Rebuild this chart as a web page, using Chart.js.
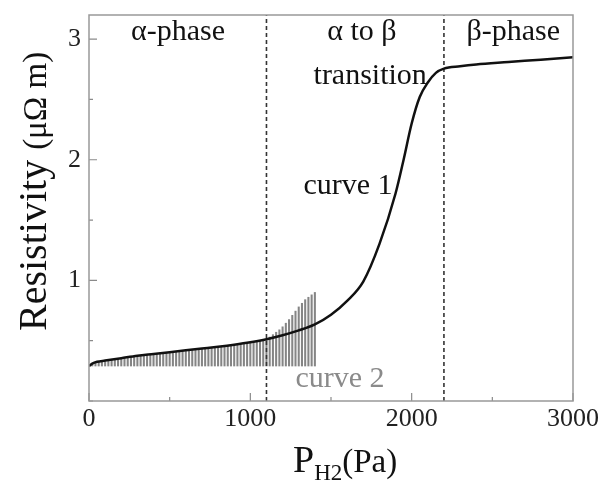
<!DOCTYPE html>
<html>
<head>
<meta charset="utf-8">
<script src="https://cdn.jsdelivr.net/npm/chart.js@4.4.1/dist/chart.umd.min.js"></script>
<style>
  html, body { margin: 0; padding: 0; background: #fff; }
</style>
</head>
<body>
<canvas id="chart" width="598" height="482"></canvas>
<script>
// curve 1: resistivity vs hydrogen pressure (black)
const curve1P = [0, 20, 50, 100, 200, 300, 400, 500, 600, 700, 800, 900, 1000, 1100, 1200, 1300, 1400,
  1500, 1600, 1700, 1800, 1900, 1950, 2000, 2050, 2100, 2150, 2200, 2300, 2400, 2600, 2800, 3000];
const curve1R = [0.29, 0.31, 0.325, 0.335, 0.355, 0.375, 0.39, 0.405, 0.42, 0.435, 0.45, 0.467, 0.487, 0.512, 0.545, 0.585, 0.635,
  0.715, 0.83, 0.99, 1.3, 1.72, 2.0, 2.3, 2.52, 2.64, 2.72, 2.755, 2.775, 2.79, 2.81, 2.83, 2.85];

// curve 2: oscillating measurement (gray comb), one spike per pressure step
const spikeP = [0, 20, 40, 60, 80, 100, 120, 140, 160, 180, 200, 220, 240, 260, 280, 300, 320, 340, 360, 380,
  400, 420, 440, 460, 480, 500, 520, 540, 560, 580, 600, 620, 640, 660, 680, 700, 720, 740, 760, 780,
  800, 820, 840, 860, 880, 900, 920, 940, 960, 980, 1000, 1020, 1040, 1060, 1080, 1100, 1120, 1140, 1160, 1180,
  1200, 1220, 1240, 1260, 1280, 1300, 1320, 1340, 1360, 1380, 1400];
const spikeTop = [0.30, 0.31, 0.318, 0.325, 0.33, 0.335, 0.339, 0.343, 0.347, 0.351, 0.355, 0.359, 0.363, 0.367, 0.371, 0.375, 0.378, 0.381, 0.384, 0.387,
  0.39, 0.393, 0.396, 0.399, 0.402, 0.405, 0.408, 0.411, 0.414, 0.417, 0.42, 0.423, 0.426, 0.429, 0.432, 0.435, 0.438, 0.441, 0.444, 0.447,
  0.45, 0.453, 0.457, 0.46, 0.464, 0.467, 0.471, 0.475, 0.479, 0.483, 0.487, 0.492, 0.497, 0.502, 0.507, 0.512, 0.53, 0.55, 0.57, 0.59,
  0.615, 0.645, 0.675, 0.71, 0.745, 0.78, 0.81, 0.84, 0.86, 0.88, 0.90];
const spikeBase = [0.29, 0.29, 0.29, 0.29, 0.29, 0.29, 0.29, 0.29, 0.29, 0.29, 0.29, 0.29, 0.29, 0.29, 0.29, 0.29, 0.29, 0.29, 0.29, 0.29,
  0.29, 0.29, 0.29, 0.29, 0.29, 0.29, 0.29, 0.29, 0.29, 0.29, 0.29, 0.29, 0.29, 0.29, 0.29, 0.29, 0.29, 0.29, 0.29, 0.29,
  0.29, 0.29, 0.29, 0.29, 0.29, 0.29, 0.29, 0.29, 0.29, 0.29, 0.29, 0.29, 0.29, 0.29, 0.29, 0.29, 0.29, 0.29, 0.29, 0.29,
  0.29, 0.29, 0.29, 0.29, 0.29, 0.29, 0.29, 0.29, 0.29, 0.29, 0.29];

// phase boundaries (dashed verticals)
const phaseBounds = [1100, 2200];

// axis ticks: labelled majors and unlabelled minors
const xTickValues = [0, 500, 1000, 1500, 2000, 2500, 3000];
const xTickLabels = ["0", "", "1000", "", "2000", "", "3000"];
const yTickValues = [0, 0.5, 1, 1.5, 2, 2.5, 3];
const yTickLabels = ["", "", "1", "", "2", "", "3"];

// text labels placed in data coordinates (alphabetic baseline)
const labelText = ["\u03b1-phase", "\u03b1 to \u03b2", "transition", "\u03b2-phase", "curve 1", "curve 2"];
const labelX = [552, 1692, 1743, 2630, 1605, 1556];
const labelY = [2.99, 2.99, 2.63, 2.99, 1.716, 0.116];
const labelColor = ["#111", "#111", "#111", "#111", "#111", "#8a8a8a"];

const SERIF = "'Liberation Serif', 'Times New Roman', serif";
Chart.defaults.font.family = SERIF;

const decorPlugin = {
  id: "decor",
  afterDatasetsDraw(chart) {
    const { ctx, chartArea: a, scales: { x, y } } = chart;
    ctx.save();
    // inward ticks
    ctx.strokeStyle = "#8a8a8a";
    ctx.lineWidth = 1.2;
    ctx.beginPath();
    x.ticks.forEach((t, i) => {
      const px = x.getPixelForValue(t.value);
      const len = xTickLabels[i] ? 8 : 4;
      ctx.moveTo(px, a.bottom);
      ctx.lineTo(px, a.bottom - len);
    });
    y.ticks.forEach((t, i) => {
      const py = y.getPixelForValue(t.value);
      const len = yTickLabels[i] ? 8 : 4;
      ctx.moveTo(a.left, py);
      ctx.lineTo(a.left + len, py);
    });
    ctx.stroke();
    // frame
    ctx.lineWidth = 1.5;
    ctx.strokeStyle = "#999";
    ctx.strokeRect(a.left, a.top, a.right - a.left, a.bottom - a.top);

    // in-plot labels
    ctx.textAlign = "center";
    ctx.textBaseline = "alphabetic";
    ctx.font = "30px " + SERIF;
    labelText.forEach((s, i) => {
      ctx.fillStyle = labelColor[i];
      ctx.fillText(s, x.getPixelForValue(labelX[i]), y.getPixelForValue(labelY[i]));
    });

    // x title: P_H2(Pa)
    ctx.fillStyle = "#111";
    ctx.textAlign = "left";
    let tx = 293;
    const base = 472;
    ctx.font = "38px " + SERIF;
    ctx.fillText("P", tx, base);
    tx += ctx.measureText("P").width;
    ctx.font = "23px " + SERIF;
    ctx.fillText("H2", tx, base + 8);
    tx += ctx.measureText("H2").width;
    ctx.font = "33px " + SERIF;
    ctx.fillText("(Pa)", tx, base);

    // y title: Resistivity (μΩ m)
    ctx.translate(46, 331);
    ctx.rotate(-Math.PI / 2);
    ctx.font = "40px " + SERIF;
    ctx.fillText("Resistivity", 0, 0);
    const ty = ctx.measureText("Resistivity ").width;
    ctx.font = "33px " + SERIF;
    ctx.fillText("(\u03bc\u03a9 m)", ty, 0);
    ctx.restore();
  },
};

new Chart(document.getElementById("chart"), {
  type: "line",
  data: {
    datasets: [
      {
        label: "curve 1",
        data: curve1P.map((p, i) => ({ x: p, y: curve1R[i] })),
        borderColor: "#111",
        borderWidth: 2.5,
        pointRadius: 0,
        cubicInterpolationMode: "monotone",
        order: 0,
      },
      ...phaseBounds.map((b) => ({
        label: "bound",
        data: [{ x: b, y: 0 }, { x: b, y: 3.2 }],
        borderColor: "#333",
        borderWidth: 1.6,
        borderDash: [4, 3],
        pointRadius: 0,
        order: 1,
      })),
      {
        type: "bar",
        label: "curve 2",
        data: spikeP.map((p, i) => ({ x: p, y: [spikeBase[i], spikeTop[i]] })),
        backgroundColor: "#858585",
        barThickness: 1.4,
        order: 2,
      },
    ],
  },
  options: {
    responsive: false,
    animation: false,
    layout: { padding: { top: 15, right: 25, left: 0, bottom: 0 } },
    plugins: { legend: { display: false }, tooltip: { enabled: false } },
    scales: {
      x: {
        type: "linear",
        min: 0,
        max: 3000,
        offset: false,
        grid: { display: false, drawTicks: false },
        border: { display: false },
        afterBuildTicks: (s) => { s.ticks = xTickValues.map((v) => ({ value: v })); },
        ticks: {
          padding: 3,
          color: "#222",
          font: { size: 26 },
          maxRotation: 0,
          autoSkip: false,
          callback: (v, i) => xTickLabels[i],
        },
        afterFit: (s) => { s.height = 81; s.paddingLeft = 0; s.paddingRight = 0; },
      },
      y: {
        min: 0,
        max: 3.2,
        grid: { display: false, drawTicks: false },
        border: { display: false },
        afterBuildTicks: (s) => { s.ticks = yTickValues.map((v) => ({ value: v })); },
        ticks: {
          padding: 8,
          color: "#222",
          font: { size: 26 },
          autoSkip: false,
          callback: (v, i) => yTickLabels[i],
        },
        afterFit: (s) => { s.width = 89; s.paddingTop = 0; s.paddingBottom = 0; },
      },
    },
  },
  plugins: [decorPlugin],
});
</script>
</body>
</html>
